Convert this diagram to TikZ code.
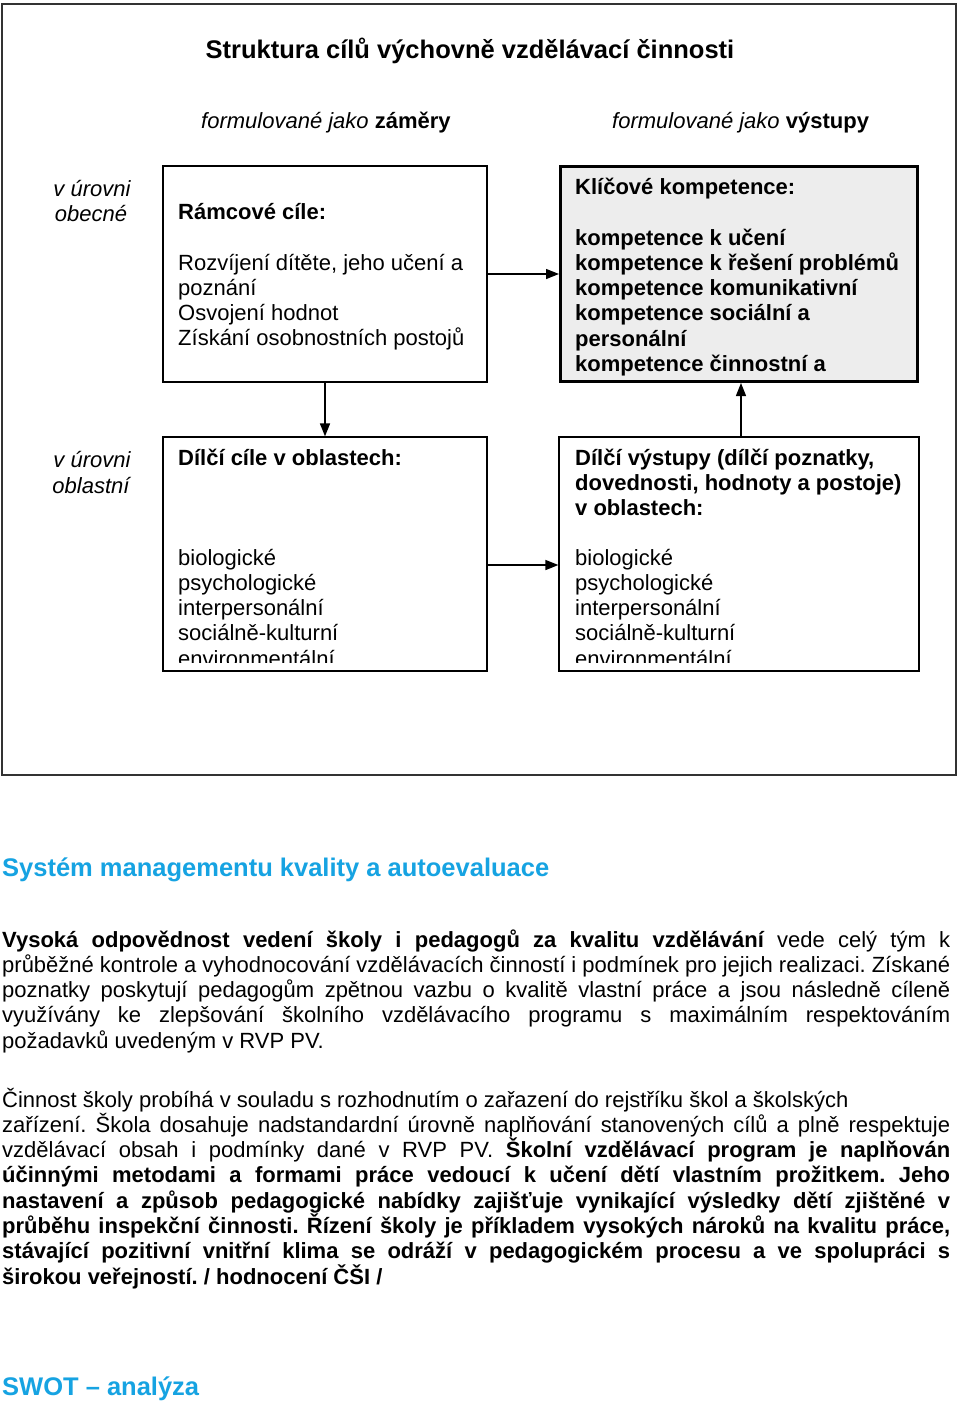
\documentclass[tikz,border=0pt]{standalone}
\usepackage{fontspec}
\setmainfont{Liberation Sans}
\usetikzlibrary{arrows.meta}
\definecolor{cyanh}{RGB}{22,163,226}
\definecolor{framegray}{RGB}{50,50,50}
\newcommand\jline[1]{\makebox[948pt][s]{#1}}
\tikzset{
  box/.style={draw=black, line width=1.2pt, fill=white, inner sep=0pt},
  kbox/.style={draw=black, line width=3pt, fill=black!7, inner sep=0pt},
  arr/.style={-{Triangle[length=13pt,width=10pt]}, line width=1.4pt},
  txt/.style={inner sep=0pt, anchor=base west, font=\fontsize{22}{25.3}\selectfont},
  btxt/.style={txt, font=\fontsize{22}{25.3}\selectfont\bfseries},
  lvl/.style={inner sep=0pt, anchor=base, font=\fontsize{22}{25.3}\selectfont\itshape},
  head/.style={inner sep=0pt, anchor=base west, text=cyanh, font=\fontsize{25.5}{30}\selectfont\bfseries},
}
\begin{document}
\frenchspacing
\begin{tikzpicture}[x=1pt,y=-1pt]
\useasboundingbox (0,0) rectangle (960,1406);
\fill[white] (0,0) rectangle (960,1406);
% outer frame
\draw[framegray, line width=1.6pt] (2,4) rectangle (956,775);
% title
\node[inner sep=0pt, anchor=base, font=\fontsize{25.5}{30}\selectfont\bfseries] (title) at (470,58) {Struktura cílů výchovně vzdělávací činnosti};
\node[inner sep=0pt, anchor=base west, font=\fontsize{22}{25.3}\selectfont] (fz) at (201,128) {\itshape formulované jako \bfseries\upshape záměry};
\node[inner sep=0pt, anchor=base west, font=\fontsize{22}{25.3}\selectfont] (fv) at (612,128) {\itshape formulované jako \bfseries\upshape výstupy};
% level labels
\node[lvl] (lo1) at (92,196) {v úrovni};
\node[lvl] (lo2) at (91,221) {obecné};
\node[lvl] (la1) at (92,467) {v úrovni};
\node[lvl] (la2) at (91,493) {oblastní};
% boxes
\node[box, minimum width=324pt, minimum height=216pt] (b1) at (325,274) {};
\node[kbox, minimum width=357pt, minimum height=215pt] (b2) at (739,274) {};
\node[box, minimum width=324pt, minimum height=234pt] (b3) at (325,554) {};
\node[box, minimum width=360pt, minimum height=234pt] (b4) at (739,554) {};
% arrows
\draw[arr] (b1.east) -- (b2.west);
\draw[arr] (b1.south) -- (b3.north);
\draw[arr] ([xshift=2pt]b4.north) -- ([xshift=2pt]b2.south);
\draw[arr] ([yshift=-11pt]b3.east) -- ([yshift=-11pt]b4.west);
% box 1 text
\node[btxt] (b1h) at (178,219) {Rámcové cíle:};
\foreach \t [count=\i] in {{Rozvíjení dítěte, jeho učení a},{poznání},{Osvojení hodnot},{Získání osobnostních postojů}}
  \node[txt] (b1l\i) at (178,{270+25.3*(\i-1)}) {\t};
% box 2 text
\node[btxt] (b2h) at (575,194) {Klíčové kompetence:};
\foreach \t [count=\i] in {{kompetence k učení},{kompetence k řešení problémů},{kompetence komunikativní},{kompetence sociální a},{personální},{kompetence činnostní a}}
  \node[btxt] (b2l\i) at (575,{245+25.3*(\i-1)}) {\t};
% box 3 and 4 text (clipped)
\begin{scope}
\clip (150,430) rectangle (940,662);
\node[btxt] (b3h) at (178,465) {Dílčí cíle v oblastech:};
\foreach \t [count=\i] in {biologické,psychologické,interpersonální,sociálně-kulturní,environmentální}
  \node[txt] (b3l\i) at (178,{565+25.3*(\i-1)}) {\t};
\foreach \t [count=\i] in {{Dílčí výstupy (dílčí poznatky,},{dovednosti, hodnoty a postoje)},{v oblastech:}}
  \node[btxt] (b4h\i) at (575,{465+25.3*(\i-1)}) {\t};
\foreach \t [count=\i] in {biologické,psychologické,interpersonální,sociálně-kulturní,environmentální}
  \node[txt] (b4l\i) at (575,{565+25.3*(\i-1)}) {\t};
\end{scope}
% lower section
\node[head] (h1) at (2,876) {Systém managementu kvality a autoevaluace};
\node[txt] (p1a) at (2,947) {\jline{{\bfseries Vysoká odpovědnost vedení školy i pedagogů za kvalitu vzdělávání} vede celý tým k}};
\node[txt] (p1b) at (2,972.3) {\jline{průběžné kontrole a vyhodnocování vzdělávacích činností i podmínek pro jejich realizaci. Získané}};
\node[txt] (p1c) at (2,997.6) {\jline{poznatky poskytují pedagogům zpětnou vazbu o kvalitě vlastní práce a jsou následně cíleně}};
\node[txt] (p1d) at (2,1022.9) {\jline{využívány ke zlepšování školního vzdělávacího programu s maximálním respektováním}};
\node[txt] (p1e) at (2,1048.2) {požadavků uvedeným v RVP PV.};
\node[txt] (p2a) at (2,1107) {Činnost školy probíhá v souladu s rozhodnutím o zařazení do rejstříku škol a školských};
\node[txt] (p2b) at (2,1132.3) {\jline{zařízení. Škola dosahuje nadstandardní úrovně naplňování stanovených cílů a plně respektuje}};
\node[txt] (p2c) at (2,1157.6) {\jline{vzdělávací obsah i podmínky dané v RVP PV. {\bfseries Školní vzdělávací program je naplňován}}};
\node[btxt] (p2d) at (2,1182.9) {\jline{účinnými metodami a formami práce vedoucí k učení dětí vlastním prožitkem. Jeho}};
\node[btxt] (p2e) at (2,1208.2) {\jline{nastavení a způsob pedagogické nabídky zajišťuje vynikající výsledky dětí zjištěné v}};
\node[btxt] (p2f) at (2,1233.5) {\jline{průběhu inspekční činnosti. Řízení školy je příkladem vysokých nároků na kvalitu práce,}};
\node[btxt] (p2g) at (2,1258.8) {\jline{stávající pozitivní vnitřní klima se odráží v pedagogickém procesu a ve spolupráci s}};
\node[btxt] (p2h) at (2,1284.1) {širokou veřejností. / hodnocení ČŠI /};
\node[head] (h2) at (2,1395) {SWOT – analýza};
\end{tikzpicture}
\end{document}
